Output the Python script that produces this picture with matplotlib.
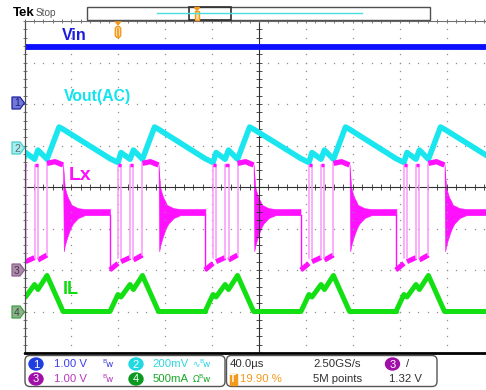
import matplotlib
matplotlib.use("Agg")
import matplotlib.pyplot as plt
from matplotlib.patches import Polygon, FancyBboxPatch, Ellipse, Rectangle

# ---- scope settings
us_per_div = 40.0
ch_scale = {1: 1.0, 2: 200.0, 3: 1.0, 4: 0.5}     # V, mV, V, A per div
ch_offset = {1: 2.0, 2: 1.0, 3: -2.0, 4: -3.0}    # ground marker, div

# ---- burst start times (us from left edge of screen) and burst period
burst_starts = [-8.5, 72.9, 154.0, 235.8, 316.8, 398.3]
period = 81.4

# ---- ch1 Vin (V)
vin_level = 1.37

# ---- ch2 Vout AC ripple over one burst (us, mV)
vout_t = [0.0, 6.8, 9.4, 17.1, 20.0, 27.7, 38.0, 41.8]
vout_mv = [-63, -82, -34, -66, -22, -66, 89, 77]

# ---- ch3 Lx switch node over one burst (us, V)
lx_low_t = [(0.0, 6.8), (9.4, 17.1), (20.0, 27.7)]
lx_low_v = [(0.0, 0.16), (0.2, 0.30), (0.24, 0.36)]
lx_pulse_t = [(6.8, 9.4), (17.1, 20.0)]
lx_high_v = 2.53
lx_plateau_t = [27.7, 34.5, 41.4]
lx_plateau_v = [2.57, 2.61, 2.53]
ring_t = [0.0, 0.6, 1.4, 2.8, 4.3, 5.7, 7.1, 8.5, 12.8, 18.5]
ring_hi = [2.55, 2.30, 2.00, 1.85, 1.73, 1.66, 1.57, 1.55, 1.49, 1.47]
ring_lo = [2.55, 0.45, 0.58, 0.72, 0.85, 0.96, 1.05, 1.12, 1.25, 1.32]
lx_settle = (1.32, 1.47)

# ---- ch4 IL over one burst (us, A)
il_t = [0.0, 6.8, 9.4, 17.1, 20.0, 27.7, 41.4]
il_a = [0.0, 0.205, 0.175, 0.325, 0.265, 0.434, 0.0]

BLUE = '#0a10ff'
CYAN = '#19e6ee'
MAG = '#ff10ff'
PINK = '#f99af9'
GREEN = '#12e012'
ORANGE = '#f39a1a'

def div(ch, v):
    return ch_offset[ch] + v / ch_scale[ch]

fig = plt.figure(figsize=(4.86, 3.9), dpi=100)
W, H = 486, 390
ax = fig.add_axes([24.5 / W, (H - 353) / H, 469 / W, 332 / H])
ax.set_xlim(0, 10 * us_per_div)
ax.set_ylim(-4, 4)

# graticule
ax.set_xticks([])
ax.set_yticks([])
for k in range(1, 10):
    if k == 5:
        continue
    ax.plot([k * us_per_div] * 41, [-4 + j * 0.2 for j in range(41)], ls='none',
            marker='s', ms=0.9, mew=0, color='#909090')
for i in range(-3, 4):
    if i == 0:
        continue
    ax.plot([m * us_per_div / 5 for m in range(51)], [i] * 51, ls='none',
            marker='s', ms=0.9, mew=0, color='#909090')
ax.axvline(5 * us_per_div, color='#303030', lw=0.8)
ax.axhline(0, color='#303030', lw=0.8)
ax.plot([m * us_per_div / 5 for m in range(51)], [0] * 51, ls='none',
        marker='|', ms=4, mew=0.6, color='#303030')
ax.plot([5 * us_per_div] * 41, [-4 + j * 0.2 for j in range(41)], ls='none',
        marker='_', ms=4, mew=0.6, color='#303030')
ax.plot([m * us_per_div / 5 for m in range(51)], [4] * 51, ls='none',
        marker='|', ms=3.5, mew=0.6, color='#606060', clip_on=False)
ax.plot([0] * 41, [-4 + j * 0.2 for j in range(41)], ls='none',
        marker='_', ms=3.5, mew=0.6, color='#606060', clip_on=False)
ax.spines['right'].set_visible(False)
ax.spines['left'].set_color('#505050')
ax.spines['left'].set_linewidth(0.9)
ax.spines['top'].set_color('#707070')
ax.spines['top'].set_linewidth(0.8)
ax.spines['bottom'].set_color('black')
ax.spines['bottom'].set_linewidth(2.0)

# ch1 Vin
ax.plot([0, 10 * us_per_div], [div(1, vin_level)] * 2, color=BLUE, lw=4.2,
        solid_capstyle='butt')

# ch2 Vout
xs, ys = [], []
for s in burst_starts:
    xs += [s + t for t in vout_t]
    ys += [div(2, v) for v in vout_mv]
ax.plot(xs, ys, color=CYAN, lw=4.0, solid_joinstyle='round')

# ch4 IL
xs, ys = [], []
for s in burst_starts:
    xs += [s + t for t in il_t] + [s + period]
    ys += [div(4, a) for a in il_a] + [div(4, 0.0)]
ax.plot(xs, ys, color=GREEN, lw=3.6, solid_joinstyle='round')

# ch3 Lx
for s in burst_starts:
    # edge from the previous ringing down to the first low phase
    ax.plot([s, s], [div(3, lx_settle[0]), div(3, lx_low_v[0][0])], color=MAG, lw=1.0)
    for (t0, t1), (v0, v1) in zip(lx_low_t, lx_low_v):
        ax.plot([s + t0, s + t1], [div(3, v0), div(3, v1)], color=MAG, lw=3.6,
                solid_capstyle='butt')
    for t0, t1 in lx_pulse_t:
        for t in (t0, t1):
            ax.plot([s + t] * 2, [div(3, 0.3), div(3, lx_high_v)], color=PINK, lw=1.1)
        ax.plot([s + t0, s + t1], [div(3, lx_high_v)] * 2, color=MAG, lw=2.5,
                solid_capstyle='butt')
    ax.plot([s + lx_plateau_t[0]] * 2, [div(3, 0.35), div(3, lx_plateau_v[0])],
            color=PINK, lw=1.1)
    ax.plot([s + t for t in lx_plateau_t], [div(3, v) for v in lx_plateau_v],
            color=MAG, lw=3.8, solid_capstyle='butt')
    t_end = s + lx_plateau_t[-1]
    rx = [t_end + t for t in ring_t] + [s + period]
    ax.fill_between(rx, [div(3, v) for v in ring_lo] + [div(3, lx_settle[0])],
                    [div(3, v) for v in ring_hi] + [div(3, lx_settle[1])],
                    color=MAG, lw=0.4)

# ---- overlay in screen pixels
ov = fig.add_axes([0, 0, 1, 1])
ov.set_xlim(0, W)
ov.set_ylim(H, 0)
ov.axis('off')
ov.patch.set_alpha(0)

bold = dict(family=['Liberation Sans', 'DejaVu Sans'], weight='bold', va='center', ha='left')
ov.text(62, 36, 'Vin', color='#1c1ce0', fontsize=11.5, **bold)
ov.text(64, 96, 'Vout(AC)', color='#10e4ee', fontsize=11.3, **bold)
ov.text(69, 175, 'Lx', color=MAG, fontsize=14, **bold)
ov.text(63, 289, 'IL', color='#10dc10', fontsize=13, **bold)

# channel ground markers
markers = [(1, 103, '#7078d8', '#2020a0', '#20207a'),
           (2, 148, '#a8ecec', '#40d0d0', '#507070'),
           (3, 270, '#a88ca8', '#906090', '#503050'),
           (4, 312, '#90b090', '#40a040', '#305030')]
for num, y, fc, ec, tc in markers:
    ov.add_patch(Polygon([(12, y - 6), (20, y - 6), (24.5, y), (20, y + 6), (12, y + 6)],
                         closed=True, fc=fc, ec=ec, lw=0.9))
    ov.text(17, y + 0.5, str(num), color=tc, fontsize=7.5, ha='center', va='center',
            family='Liberation Sans')

# trigger position marker on top of graticule
ov.add_patch(Polygon([(115, 21), (121, 21), (118, 25)], closed=True, fc=ORANGE, ec=ORANGE))
ov.add_patch(FancyBboxPatch((115.3, 26.5), 5.4, 11, boxstyle='round,pad=0,rounding_size=2.5',
                            fc='#ffd9a0', ec=ORANGE, lw=1))
ov.plot([118, 118], [28.5, 35.5], color=ORANGE, lw=1.2)

# top status bar
ov.text(12.5, 13.5, 'Tek', fontsize=9.5, weight='bold', color='black', va='center',
        ha='left', family='Liberation Sans')
ov.text(36, 13.5, 'Stop', fontsize=7.2, color='#555555', va='center', ha='left',
        family='Liberation Sans')
ov.add_patch(Rectangle((87.3, 7.3), 342.7, 12.7, fc='white', ec='#505050', lw=1))
ov.plot([157, 362], [13.3, 13.3], color='#4adede', lw=1.0)
ov.add_patch(Rectangle((189.3, 7.3), 41.4, 12.7, fc='none', ec='#303030', lw=1.2))
ov.add_patch(Polygon([(194.5, 7.5), (199.5, 7.5), (197, 10.5)], closed=True, fc=ORANGE, ec=ORANGE))
ov.add_patch(Rectangle((195.2, 11), 3.6, 8.5, fc='#ffd9a0', ec=ORANGE, lw=1))

# bottom readout
ov.add_patch(FancyBboxPatch((25, 355.5), 200, 31, boxstyle='round,pad=0,rounding_size=5',
                            fc='white', ec='#555555', lw=1))
ov.add_patch(FancyBboxPatch((226.5, 355.5), 210.5, 31, boxstyle='round,pad=0,rounding_size=5',
                            fc='white', ec='#555555', lw=1))
small = dict(family='Liberation Sans', va='center', ha='left', fontsize=8.2)
badges = [(36, 364, '1', '#1f3ee0'), (36, 379, '3', '#a010a8'),
          (136, 364, '2', '#22d8e2'), (136, 379, '4', '#0a9a20'),
          (392.5, 364, '3', '#a010a8')]
for x, y, t, c in badges:
    ov.add_patch(Ellipse((x, y), 14, 12, fc=c, ec=c))
    ov.text(x, y + 0.5, t, color='white', fontsize=8, ha='center', va='center',
            family='Liberation Sans')
ov.text(54, 364, '1.00 V', color='#3c3cf0', **small)
ov.text(54, 379, '1.00 V', color='#b838c0', **small)
ov.text(152.5, 364, '200mV', color='#2ed6e0', **small)
ov.text(152.5, 379, '500mA', color='#18a828', **small)
bw = dict(fontsize=6.5, ha='left', va='center', family='DejaVu Sans')
ov.text(101.5, 364, r'$^{\mathrm{B}}\!\mathrm{w}$', color='#4040e0', **bw)
ov.text(101.5, 379, r'$^{\mathrm{B}}\!\mathrm{w}$', color='#b838c0', **bw)
ov.text(192, 364, '\u223f' + r'$^{\mathrm{B}}\!\mathrm{w}$', color='#2ed6e0', **bw)
ov.text(192, 379, '\u03a9' + r'$^{\mathrm{B}}\!\mathrm{w}$', color='#18a828', **bw)

ov.text(229.5, 364, '40.0\u00b5s', color='#303030', **small)
ov.text(313, 364, '2.50GS/s', color='#303030', **small)
ov.text(406, 364, '/', color='#303030', **small)
ov.add_patch(Rectangle((229.5, 373.5), 7, 11, fc=ORANGE, ec=ORANGE))
ov.text(233, 379.3, 'T', color='white', fontsize=7, ha='center', va='center', weight='bold',
        family='Liberation Sans')
ov.text(240, 379, '19.90 %', color=ORANGE, **small)
ov.text(313, 379, '5M points', color='#303030', **small)
ov.text(388.5, 379, '1.32 V', color='#303030', **small)

fig.savefig('out.png', dpi=100)
